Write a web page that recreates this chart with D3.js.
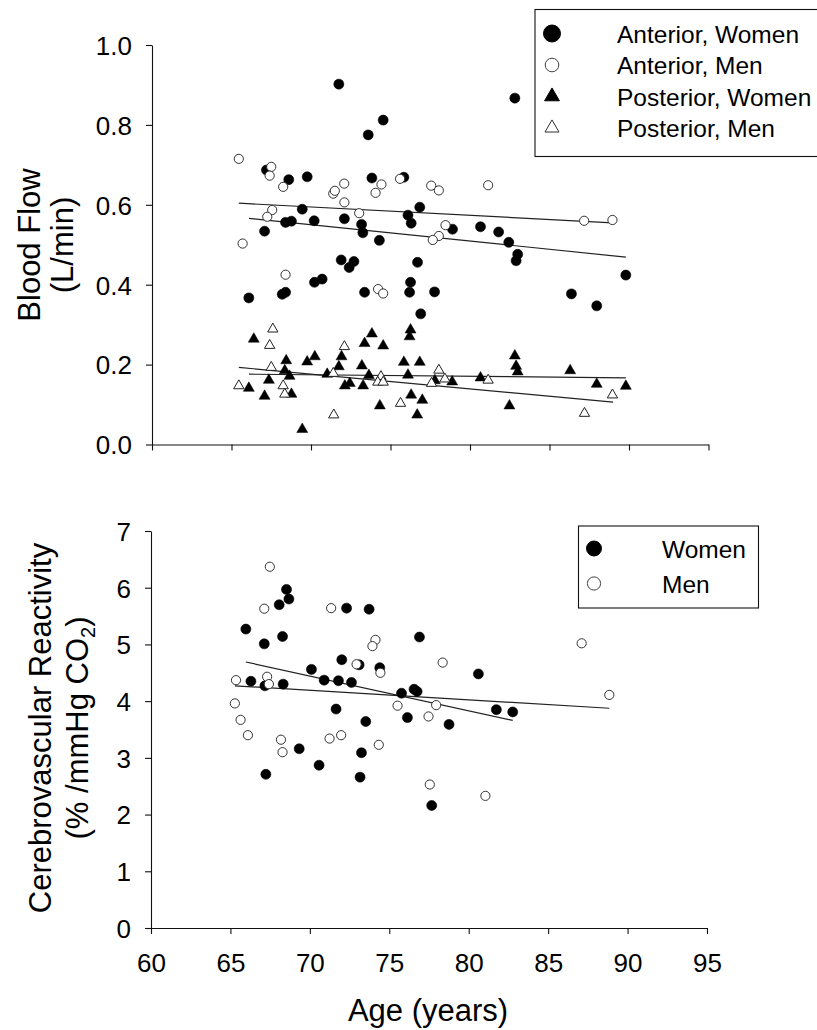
<!DOCTYPE html>
<html>
<head>
<meta charset="utf-8">
<script src="https://cdn.jsdelivr.net/npm/d3@7"></script>
<style>
  html, body { margin: 0; padding: 0; background: #fff; }
  svg { display: block; font-family: "Liberation Sans", Arial, sans-serif; }
</style>
</head>
<body>
<svg id="chart" width="817" height="1030"></svg>
<script>
// ---- Blood flow (top panel): [age, L/min] ----
const anteriorWomen = [
  [71.75,0.902],[74.54,0.812],[73.6,0.775],[68.6,0.663],[69.76,0.670],[73.83,0.667],
  [75.84,0.669],[67.2,0.687],[69.45,0.589],[68.4,0.556],[68.77,0.559],[70.2,0.560],
  [72.1,0.565],[73.18,0.551],[73.26,0.530],[67.08,0.534],[74.3,0.511],[76.1,0.574],
  [76.3,0.554],[76.84,0.594],[82.82,0.867],[78.9,0.539],[80.66,0.545],[81.8,0.532],
  [82.44,0.506],[71.9,0.462],[72.7,0.458],[72.4,0.443],[70.22,0.406],[70.7,0.414],
  [76.26,0.406],[76.2,0.381],[73.37,0.381],[68.19,0.376],[68.4,0.381],[66.09,0.367],
  [76.7,0.456],[76.9,0.327],[83.0,0.476],[82.9,0.460],[89.8,0.424],[77.77,0.382],
  [86.38,0.377],[87.97,0.347]
];
const anteriorMen = [
  [65.46,0.715],[67.5,0.695],[67.4,0.673],[68.25,0.645],[72.09,0.653],[71.4,0.628],
  [71.5,0.635],[74.43,0.651],[74.06,0.630],[75.6,0.665],[72.1,0.606],[67.56,0.587],
  [67.25,0.570],[73.03,0.579],[65.7,0.503],[77.56,0.648],[78.04,0.636],[81.14,0.649],
  [78.46,0.549],[78.04,0.522],[77.66,0.512],[87.18,0.560],[88.96,0.562],[68.4,0.425],
  [74.22,0.389],[74.54,0.378]
];
const posteriorWomen = [
  [66.4,0.264],[68.44,0.210],[69.76,0.207],[70.24,0.220],[71.92,0.220],[71.75,0.195],
  [73.37,0.253],[73.83,0.277],[74.54,0.247],[73.2,0.197],[73.64,0.173],[68.35,0.185],
  [68.65,0.171],[71.02,0.176],[67.35,0.161],[66.09,0.141],[67.08,0.121],[68.77,0.126],
  [69.45,0.038],[72.13,0.147],[72.44,0.153],[73.28,0.147],[75.84,0.206],[76.26,0.287],
  [76.2,0.270],[76.1,0.174],[76.3,0.124],[74.33,0.097],[76.68,0.074],[76.84,0.206],
  [77.0,0.111],[77.79,0.160],[78.88,0.157],[80.66,0.167],[82.82,0.222],[82.9,0.196],
  [83.0,0.182],[82.48,0.097],[86.3,0.185],[87.97,0.151],[89.8,0.146]
];
const posteriorMen = [
  [67.6,0.289],[67.4,0.248],[72.1,0.245],[67.5,0.193],[65.46,0.147],[68.25,0.147],
  [68.35,0.126],[71.4,0.178],[71.43,0.074],[74.4,0.170],[74.2,0.156],[74.54,0.156],
  [75.63,0.103],[78.04,0.186],[78.42,0.164],[77.58,0.153],[81.14,0.161],[88.96,0.124],
  [87.2,0.078]
];
// fitted lines, [start, end]
const fitAnteriorMen    = [[65.46,0.604],[88.96,0.555]];
const fitAnteriorWomen  = [[66.1,0.566],[89.8,0.469]];
const fitPosteriorMen   = [[65.46,0.193],[89.0,0.106]];
const fitPosteriorWomen = [[66.1,0.176],[89.8,0.167]];

// ---- Cerebrovascular reactivity (bottom panel): [age, %/mmHg CO2] ----
const cvrWomen = [
  [68.53,5.97],[68.68,5.80],[68.07,5.70],[72.31,5.64],[73.73,5.62],[65.97,5.27],
  [68.28,5.14],[67.13,5.01],[76.9,5.13],[72.01,4.73],[70.1,4.56],[73.1,4.64],
  [74.4,4.59],[66.29,4.35],[67.17,4.27],[68.32,4.30],[70.9,4.37],[71.8,4.36],
  [72.62,4.33],[75.77,4.14],[76.56,4.21],[76.75,4.17],[71.65,3.86],[73.52,3.64],
  [76.14,3.71],[69.33,3.16],[73.25,3.09],[70.58,2.87],[67.23,2.71],[73.16,2.66],
  [80.61,4.48],[78.76,3.59],[81.74,3.85],[82.77,3.81],[77.67,2.16]
];
const cvrMen = [
  [67.48,6.37],[67.13,5.63],[71.34,5.64],[74.13,5.08],[73.94,4.97],[72.94,4.65],
  [74.44,4.50],[65.35,4.37],[67.31,4.43],[67.42,4.30],[65.28,3.96],[65.64,3.67],
  [66.1,3.40],[75.52,3.92],[68.18,3.32],[68.28,3.10],[71.24,3.34],[71.97,3.40],
  [74.34,3.23],[78.36,4.68],[87.11,5.02],[88.85,4.11],[77.95,3.93],[77.47,3.73],
  [77.55,2.53],[81.05,2.33]
];
const fitCvrMen   = [[65.28,4.27],[88.85,3.875]];
const fitCvrWomen = [[65.97,4.69],[82.77,3.66]];

// ---- axes ----
const ageTicks = [60,65,70,75,80,85,90,95];
const flowTicks = [0,0.2,0.4,0.6,0.8,1.0];
const cvrTicks = [0,1,2,3,4,5,6,7];

const topLegend = ["Anterior, Women","Anterior, Men","Posterior, Women","Posterior, Men"];
const bottomLegend = ["Women","Men"];

const svg = d3.select("#chart");
const INK = "#111";

const xTop = d3.scaleLinear().domain([60,95]).range([152,708.5]);
const yTop = d3.scaleLinear().domain([0,1]).range([444.5,45]);
const xBot = d3.scaleLinear().domain([60,95]).range([151,707]);
const yBot = d3.scaleLinear().domain([0,7]).range([928,531]);

const TICK_FONT = 26;
const TITLE_FONT = 31;
const LEG_FONT = 24.5;

function styleAxis(g) {
  g.selectAll("path.domain").attr("stroke", INK).attr("stroke-width", 1.1);
  g.selectAll(".tick line").attr("stroke", INK).attr("stroke-width", 1.1);
  g.selectAll(".tick text").attr("fill", "#000")
    .style("font-size", TICK_FONT + "px")
    .style("font-family", '"Liberation Sans", Arial, sans-serif');
}

// top panel axes
const gTopY = svg.append("g").attr("transform", `translate(${xTop.range()[0]},0)`)
  .call(d3.axisLeft(yTop).tickValues(flowTicks).tickFormat(d3.format(".1f"))
    .tickSize(6).tickSizeOuter(0).tickPadding(14));
styleAxis(gTopY);
gTopY.selectAll(".tick text").attr("dy", "0.36em");

const gTopX = svg.append("g").attr("transform", `translate(0,${yTop(0)})`)
  .call(d3.axisBottom(xTop).tickValues(ageTicks).tickFormat("")
    .tickSize(6).tickSizeOuter(0));
styleAxis(gTopX);

// bottom panel axes
const gBotY = svg.append("g").attr("transform", `translate(${xBot.range()[0]},0)`)
  .call(d3.axisLeft(yBot).tickValues(cvrTicks).tickFormat(d3.format("d"))
    .tickSize(6).tickSizeOuter(0).tickPadding(14));
styleAxis(gBotY);
gBotY.selectAll(".tick text").attr("dy", "0.36em");

const gBotX = svg.append("g").attr("transform", `translate(0,${yBot(0)})`)
  .call(d3.axisBottom(xBot).tickValues(ageTicks).tickFormat(d3.format("d"))
    .tickSize(6).tickSizeOuter(0));
styleAxis(gBotX);
gBotX.selectAll(".tick text").attr("y", 44).attr("dy", 0);

// ---- marks ----
function drawFit(pts, x, y) {
  svg.append("path")
    .datum(pts)
    .attr("d", d3.line().x(d => x(d[0])).y(d => y(d[1])))
    .attr("fill", "none").attr("stroke", "#222").attr("stroke-width", 1.2);
}
function drawCircles(data, x, y, filled) {
  svg.append("g").selectAll("circle").data(data).join("circle")
    .attr("cx", d => x(d[0])).attr("cy", d => y(d[1]))
    .attr("r", filled ? 5 : 4.6)
    .attr("fill", filled ? "#000" : "#fff")
    .attr("stroke", filled ? "#000" : "#333")
    .attr("stroke-width", filled ? 0.6 : 1);
}
const triSym = d3.symbol().type(d3.symbolTriangle);
function drawTriangles(data, x, y, filled) {
  svg.append("g").selectAll("path").data(data).join("path")
    .attr("transform", d => `translate(${x(d[0])},${y(d[1])})`)
    .attr("d", triSym.size(filled ? 52 : 46)())
    .attr("fill", filled ? "#000" : "#fff")
    .attr("stroke", filled ? "#000" : "#222")
    .attr("stroke-width", filled ? 0.5 : 1);
}

drawFit(fitAnteriorMen, xTop, yTop);
drawFit(fitAnteriorWomen, xTop, yTop);
drawFit(fitPosteriorMen, xTop, yTop);
drawFit(fitPosteriorWomen, xTop, yTop);
drawCircles(anteriorWomen, xTop, yTop, true);
drawCircles(anteriorMen, xTop, yTop, false);
drawTriangles(posteriorWomen, xTop, yTop, true);
drawTriangles(posteriorMen, xTop, yTop, false);

drawFit(fitCvrMen, xBot, yBot);
drawFit(fitCvrWomen, xBot, yBot);
drawCircles(cvrWomen, xBot, yBot, true);
drawCircles(cvrMen, xBot, yBot, false);

// ---- axis titles ----
function vTitle(cx, cy, text) {
  return svg.append("text")
    .attr("transform", `translate(${cx},${cy}) rotate(-90)`)
    .attr("text-anchor", "middle")
    .style("font-size", TITLE_FONT + "px")
    .attr("fill", "#000")
    .text(text);
}
vTitle(40, 245, "Blood Flow");
vTitle(73, 245, "(L/min)");
vTitle(50.5, 728, "Cerebrovascular Reactivity");
const co2 = svg.append("text")
  .attr("transform", `translate(88,728) rotate(-90)`)
  .attr("text-anchor", "middle")
  .style("font-size", TITLE_FONT + "px")
  .attr("fill", "#000");
co2.append("tspan").text("(% /mmHg CO");
co2.append("tspan").text("2").style("font-size", "20px").attr("dy", 7);
co2.append("tspan").text(")").attr("dy", -7);

svg.append("text")
  .attr("x", 428).attr("y", 1021)
  .attr("text-anchor", "middle")
  .style("font-size", TITLE_FONT + "px")
  .attr("fill", "#000")
  .text("Age (years)");

// ---- legends ----
const legTop = svg.append("g");
legTop.append("rect").attr("x", 535).attr("y", 9.5).attr("width", 300).attr("height", 147)
  .attr("fill", "#fff").attr("stroke", INK).attr("stroke-width", 1.1);
const topRows = [33.5, 65, 96.5, 128];
const topKinds = [
  {shape: "circle", filled: true}, {shape: "circle", filled: false},
  {shape: "tri", filled: true}, {shape: "tri", filled: false}
];
topLegend.forEach((label, i) => {
  const k = topKinds[i], cy = topRows[i];
  if (k.shape === "circle") {
    legTop.append("circle").attr("cx", 552).attr("cy", cy)
      .attr("r", k.filled ? 8.5 : 6.8)
      .attr("fill", k.filled ? "#000" : "#fff")
      .attr("stroke", k.filled ? "#000" : "#444").attr("stroke-width", 1);
  } else {
    legTop.append("path").attr("transform", `translate(552,${cy})`)
      .attr("d", d3.symbol().type(d3.symbolTriangle).size(k.filled ? 95 : 85)())
      .attr("fill", k.filled ? "#000" : "#fff")
      .attr("stroke", k.filled ? "#000" : "#333").attr("stroke-width", 1);
  }
  legTop.append("text").attr("x", 617).attr("y", cy + 9.3)
    .style("font-size", LEG_FONT + "px").attr("fill", "#000").text(label);
});

const legBot = svg.append("g");
legBot.append("rect").attr("x", 578.5).attr("y", 526).attr("width", 180).attr("height", 82)
  .attr("fill", "#fff").attr("stroke", INK).attr("stroke-width", 1.1);
const botRows = [548.5, 583.5];
bottomLegend.forEach((label, i) => {
  const filled = i === 0, cy = botRows[i];
  legBot.append("circle").attr("cx", 594).attr("cy", cy)
    .attr("r", filled ? 7.5 : 6.6)
    .attr("fill", filled ? "#000" : "#fff")
    .attr("stroke", filled ? "#000" : "#444").attr("stroke-width", 1);
  legBot.append("text").attr("x", 662).attr("y", cy + 9.3)
    .style("font-size", LEG_FONT + "px").attr("fill", "#000").text(label);
});
</script>
</body>
</html>
